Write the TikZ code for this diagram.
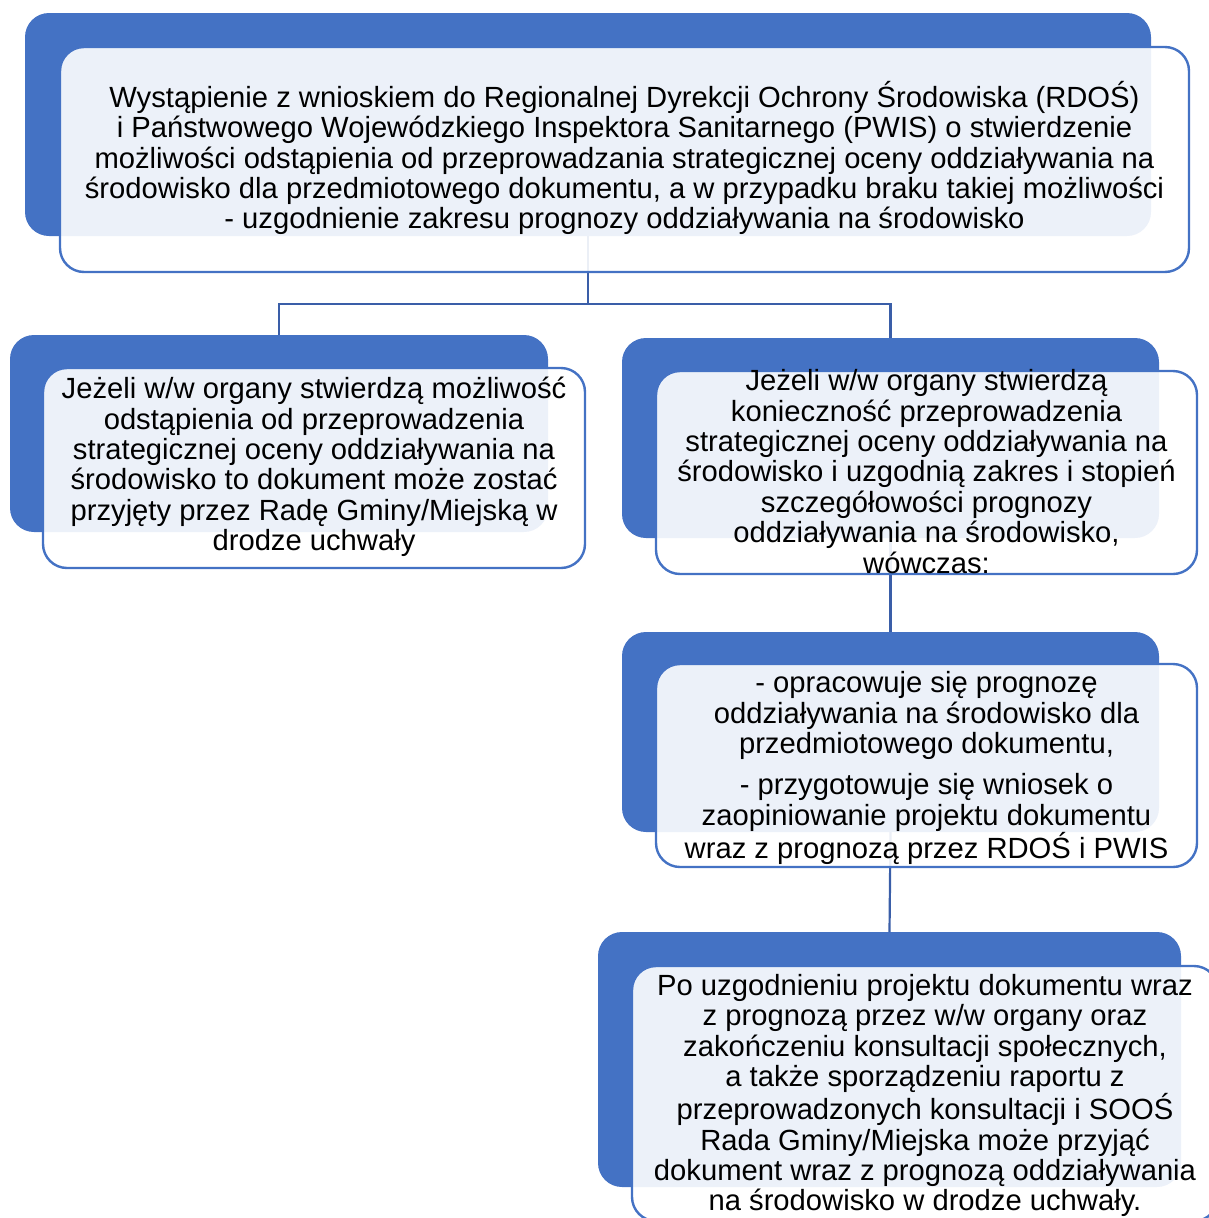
\documentclass[tikz,border=0pt]{standalone}
\usepackage{fontspec}
\setmainfont{Liberation Sans}
\definecolor{accblue}{HTML}{4472C4}
\definecolor{connblue}{HTML}{3A5EA8}
\begin{document}
\begin{tikzpicture}[x=1pt,y=-1pt,
  bluebox/.style={draw=none, fill=accblue, rounded corners=24pt, inner sep=0pt, outer sep=0pt},
  whitebox/.style={draw=accblue, line width=2.4pt, fill=white, fill opacity=0.9, rounded corners=24pt, inner sep=0pt, outer sep=0pt},
  txt/.style={align=center, inner sep=0pt, font=\fontsize{29.2}{30.4}\selectfont, text=black},
  link/.style={draw=connblue, line width=2.2pt}]
\useasboundingbox (0,0) rectangle (1209,1218);
\clip (0,0) rectangle (1209,1218);
% blue back panels
\node[bluebox, minimum width=1126pt, minimum height=223pt] (b1blue) at (588,124.5) {};
\node[bluebox, minimum width=538pt, minimum height=197pt] (b2blue) at (279,433.5) {};
\node[bluebox, minimum width=537pt, minimum height=200pt] (b3blue) at (890.5,438) {};
\node[bluebox, minimum width=537pt, minimum height=200pt] (b4blue) at (890.5,732) {};
\node[bluebox, minimum width=583pt, minimum height=255pt] (b5blue) at (889.5,1059.5) {};
% connectors
\coordinate (j1) at (588,304);
\draw[link] (b1blue.south) -- (j1);
\draw[link] (j1) -| (b2blue.north);
\draw[link] (j1) -| (b3blue.north);
\draw[link] (b3blue.south) -- (b4blue.north);
\draw[link] (b4blue.south) -- (b5blue.north);
% white front boxes
\node[whitebox, minimum width=1129pt, minimum height=225pt] (b1white) at (624.5,159.5) {};
\node[whitebox, minimum width=542pt, minimum height=200pt] (b2white) at (314,468) {};
\node[whitebox, minimum width=541pt, minimum height=203pt] (b3white) at (926.5,472.5) {};
\node[whitebox, minimum width=541pt, minimum height=203pt] (b4white) at (926.5,765.5) {};
\node[whitebox, minimum width=586pt, minimum height=255pt] (b5white) at (925,1093.5) {};
% texts
\node[txt] (t1) at (624.5,158) {Wystąpienie z wnioskiem do Regionalnej Dyrekcji Ochrony Środowiska (RDOŚ)\\
 i Państwowego Wojewódzkiego Inspektora Sanitarnego (PWIS) o stwierdzenie\\
możliwości odstąpienia od przeprowadzania strategicznej oceny oddziaływania na\\
środowisko dla przedmiotowego dokumentu, a w przypadku braku takiej możliwości\\
- uzgodnienie zakresu prognozy oddziaływania na środowisko};
\node[txt] (t2) at (314,467) {Jeżeli w/w organy stwierdzą możliwość\\
odstąpienia od przeprowadzenia\\
strategicznej oceny oddziaływania na\\
środowisko to dokument może zostać\\
przyjęty przez Radę Gminy/Miejską w\\
drodze uchwały};
\node[txt] (t3) at (926.5,471.5) {Jeżeli w/w organy stwierdzą\\
konieczność przeprowadzenia\\
strategicznej oceny oddziaływania na\\
środowisko i uzgodnią zakres i stopień\\
szczegółowości prognozy\\
oddziaływania na środowisko,\\
wówczas:};
\node[txt] (t4) at (926.5,768) {- opracowuje się prognozę\\
oddziaływania na środowisko dla\\
przedmiotowego dokumentu,\\[11pt]
- przygotowuje się wniosek o\\
zaopiniowanie projektu dokumentu\\
wraz z prognozą przez RDOŚ i PWIS};
\node[txt] (t5) at (925,1095.5) {Po uzgodnieniu projektu dokumentu wraz\\
z prognozą przez w/w organy oraz\\
zakończeniu konsultacji społecznych,\\
a także sporządzeniu raportu z\\
przeprowadzonych konsultacji i SOOŚ\\
Rada Gminy/Miejska może przyjąć\\
dokument wraz z prognozą oddziaływania\\
na środowisko w drodze uchwały.};
\end{tikzpicture}
\end{document}
